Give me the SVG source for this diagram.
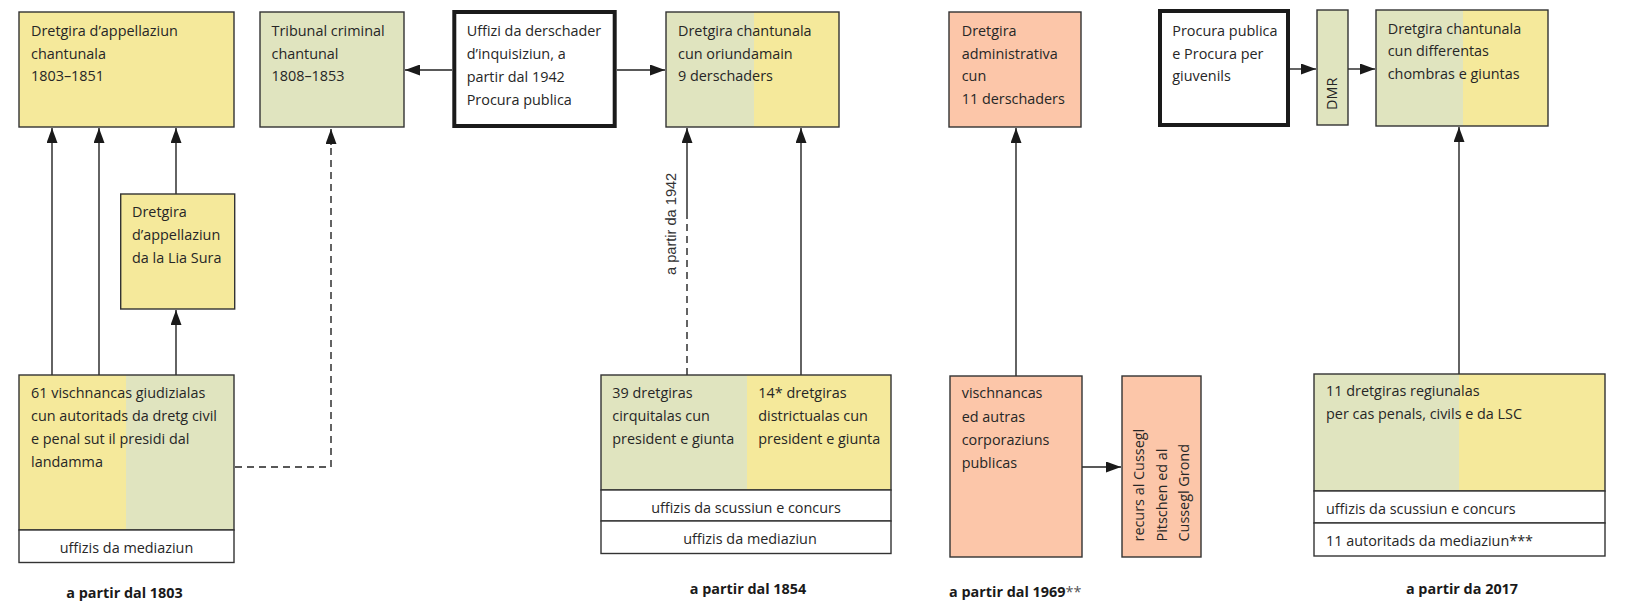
<svg xmlns="http://www.w3.org/2000/svg" width="1630" height="604" viewBox="0 0 1630 604">
<defs>
<marker id="ah" markerUnits="userSpaceOnUse" markerWidth="15" markerHeight="11" refX="15" refY="5.5" orient="auto"><path d="M0,0 L15,5.5 L0,11 z" fill="#1a1a1a"/></marker>
</defs>
<style>
.t{font-family:"Open Sans","Noto Sans",sans-serif;font-size:14.4px;fill:#262626}
.m{text-anchor:middle}
.b{font-family:"Open Sans","Noto Sans",sans-serif;font-size:14.4px;font-weight:bold;fill:#1a1a1a}
.r{font-family:"Liberation Sans",Arial,sans-serif;font-size:14.6px;fill:#333}
.o{fill:none;stroke:#333;stroke-width:1.4}
.thick{fill:#fff;stroke:#1a1a1a;stroke-width:4}
.y{fill:#F5E99B}.g{fill:#E0E4BF}.s{fill:#FCC6A9}.w{fill:#fff}
.c{fill:none;stroke:#222;stroke-width:1.4}
.d{stroke-dasharray:7 5}
</style>
<rect width="1630" height="604" fill="#fff"/>

<g id="connectors">
<path class="c" d="M52,375 V128" marker-end="url(#ah)"/>
<path class="c" d="M99,375 V128" marker-end="url(#ah)"/>
<path class="c" d="M176,194 V128" marker-end="url(#ah)"/>
<path class="c" d="M176,375 V310" marker-end="url(#ah)"/>
<path class="c d" d="M235,467 H331 V145"/>
<path class="c" d="M331,145 V129" marker-end="url(#ah)"/>
<path class="c d" d="M687,375 V217"/>
<path class="c" d="M687,217 V128" marker-end="url(#ah)"/>
<path class="c" d="M801,375 V128" marker-end="url(#ah)"/>
<path class="c" d="M452,70 H405" marker-end="url(#ah)"/>
<path class="c" d="M617,70 H665" marker-end="url(#ah)"/>
<path class="c" d="M1016,376 V128" marker-end="url(#ah)"/>
<path class="c" d="M1082,467 H1121" marker-end="url(#ah)"/>
<path class="c" d="M1290,69 H1316" marker-end="url(#ah)"/>
<path class="c" d="M1348,69 H1375" marker-end="url(#ah)"/>
<path class="c" d="M1459,374 V127" marker-end="url(#ah)"/>
<text class="r" transform="translate(676,275) rotate(-90)">a partir da 1942</text>
</g>

<g id="appellaziun-chantunala">
<rect class="y o" x="19" y="12" width="215" height="115" style="fill:#F5E99B"/>
<text class="t" x="31" y="36">Dretgira d’appellaziun</text>
<text class="t" x="31" y="58.7">chantunala</text>
<text class="t" x="31" y="81.4">1803–1851</text>
</g>

<g id="tribunal-criminal">
<rect class="o" x="260" y="12" width="144" height="115" style="fill:#E0E4BF"/>
<text class="t" x="271.5" y="36">Tribunal criminal</text>
<text class="t" x="271.5" y="58.7">chantunal</text>
<text class="t" x="271.5" y="81.4">1808–1853</text>
</g>

<g id="uffizi-derschader">
<rect class="thick" x="454.3" y="12" width="160.4" height="114"/>
<text class="t" x="466.7" y="36">Uffizi da derschader</text>
<text class="t" x="466.7" y="59">d’inquisiziun, a</text>
<text class="t" x="466.7" y="82">partir dal 1942</text>
<text class="t" x="466.7" y="105">Procura publica</text>
</g>

<g id="dretgira-chantunala-1854">
<rect class="g" x="666" y="12" width="88" height="115"/>
<rect class="y" x="754" y="12" width="85" height="115"/>
<rect class="o" x="666" y="12" width="173" height="115"/>
<text class="t" x="678" y="36">Dretgira chantunala</text>
<text class="t" x="678" y="58.7">cun oriundamain</text>
<text class="t" x="678" y="81.4">9 derschaders</text>
</g>

<g id="dretgira-administrativa">
<rect class="o" x="949" y="12" width="132" height="115" style="fill:#FCC6A9"/>
<text class="t" x="961.7" y="36">Dretgira</text>
<text class="t" x="961.7" y="58.7">administrativa</text>
<text class="t" x="961.7" y="81.4">cun</text>
<text class="t" x="961.7" y="104.2">11 derschaders</text>
</g>

<g id="procura">
<rect class="thick" x="1160" y="11" width="128" height="114"/>
<text class="t" x="1172.3" y="36">Procura publica</text>
<text class="t" x="1172.3" y="58.7">e Procura per</text>
<text class="t" x="1172.3" y="81.4">giuvenils</text>
</g>

<g id="dmr">
<rect class="o" x="1317" y="10" width="31" height="115" style="fill:#E0E4BF"/>
<text class="t" transform="translate(1337,110) rotate(-90)">DMR</text>
</g>

<g id="dretgira-chantunala-2017">
<rect class="g" x="1376" y="10" width="87" height="116"/>
<rect class="y" x="1463" y="10" width="85" height="116"/>
<rect class="o" x="1376" y="10" width="172" height="116"/>
<text class="t" x="1387.7" y="33.7">Dretgira chantunala</text>
<text class="t" x="1387.7" y="56.4">cun differentas</text>
<text class="t" x="1387.7" y="79.1">chombras e giuntas</text>
</g>

<g id="lia-sura">
<rect class="o" x="120.7" y="194" width="114" height="115" style="fill:#F5E99B"/>
<text class="t" x="132" y="216.7">Dretgira</text>
<text class="t" x="132" y="239.7">d’appellaziun</text>
<text class="t" x="132" y="262.7">da la Lia Sura</text>
</g>

<g id="vischnancas-giudizialas">
<rect class="y" x="19" y="375" width="107" height="155"/>
<rect class="g" x="126" y="375" width="108" height="155"/>
<rect class="o" x="19" y="375" width="215" height="155"/>
<text class="t" x="31" y="397.7">61 vischnancas giudizialas</text>
<text class="t" x="31" y="420.7">cun autoritads da dretg civil</text>
<text class="t" x="31" y="443.7">e penal sut il presidi dal</text>
<text class="t" x="31" y="466.7">landamma</text>
<rect class="o w" x="19" y="530" width="215" height="32.5" style="fill:#fff"/>
<text class="t m" x="126.5" y="552.5">uffizis da mediaziun</text>
</g>

<g id="dretgiras-1854">
<rect class="g" x="601" y="375" width="146" height="115"/>
<rect class="y" x="747" y="375" width="144" height="115"/>
<rect class="o" x="601" y="375" width="290" height="115"/>
<text class="t" x="612.3" y="397.5">39 dretgiras</text>
<text class="t" x="612.3" y="420.5">cirquitalas cun</text>
<text class="t" x="612.3" y="443.5">president e giunta</text>
<text class="t" x="758.3" y="397.5">14* dretgiras</text>
<text class="t" x="758.3" y="420.5">districtualas cun</text>
<text class="t" x="758.3" y="443.5">president e giunta</text>
<rect class="o" x="601" y="490" width="290" height="31" style="fill:#fff"/>
<text class="t m" x="746" y="512.5">uffizis da scussiun e concurs</text>
<rect class="o" x="601" y="521" width="290" height="32.5" style="fill:#fff"/>
<text class="t m" x="750" y="544">uffizis da mediaziun</text>
</g>

<g id="vischnancas-corporaziuns">
<rect class="o" x="950" y="376" width="132" height="181" style="fill:#FCC6A9"/>
<text class="t" x="961.7" y="398.3">vischnancas</text>
<text class="t" x="961.7" y="421.6">ed autras</text>
<text class="t" x="961.7" y="444.9">corporaziuns</text>
<text class="t" x="961.7" y="468.2">publicas</text>
</g>

<g id="recurs">
<rect class="o" x="1122" y="376" width="79" height="181" style="fill:#FCC6A9"/>
<text class="t" transform="translate(1144,541.5) rotate(-90)">recurs al Cussegl</text>
<text class="t" transform="translate(1166.7,541.5) rotate(-90)">Pitschen ed al</text>
<text class="t" transform="translate(1189.2,541.5) rotate(-90)">Cussegl Grond</text>
</g>

<g id="dretgiras-regiunalas">
<rect class="g" x="1314" y="374" width="145" height="117"/>
<rect class="y" x="1459" y="374" width="146" height="117"/>
<rect class="o" x="1314" y="374" width="291" height="117"/>
<text class="t" x="1326" y="396">11 dretgiras regiunalas</text>
<text class="t" x="1326" y="418.7">per cas penals, civils e da LSC</text>
<rect class="o" x="1314" y="491" width="291" height="32" style="fill:#fff"/>
<text class="t" x="1326" y="514">uffizis da scussiun e concurs</text>
<rect class="o" x="1314" y="523" width="291" height="33" style="fill:#fff"/>
<text class="t" x="1326" y="546">11 autoritads da mediaziun***</text>
</g>

<g id="labels">
<text class="b m" x="124.5" y="597.5">a partir dal 1803</text>
<text class="b m" x="748" y="593.5">a partir dal 1854</text>
<text class="b" x="949" y="596.7">a partir dal 1969<tspan style="font-weight:normal;fill:#555">**</tspan></text>
<text class="b m" x="1462" y="593.5">a partir da 2017</text>
</g>
</svg>
